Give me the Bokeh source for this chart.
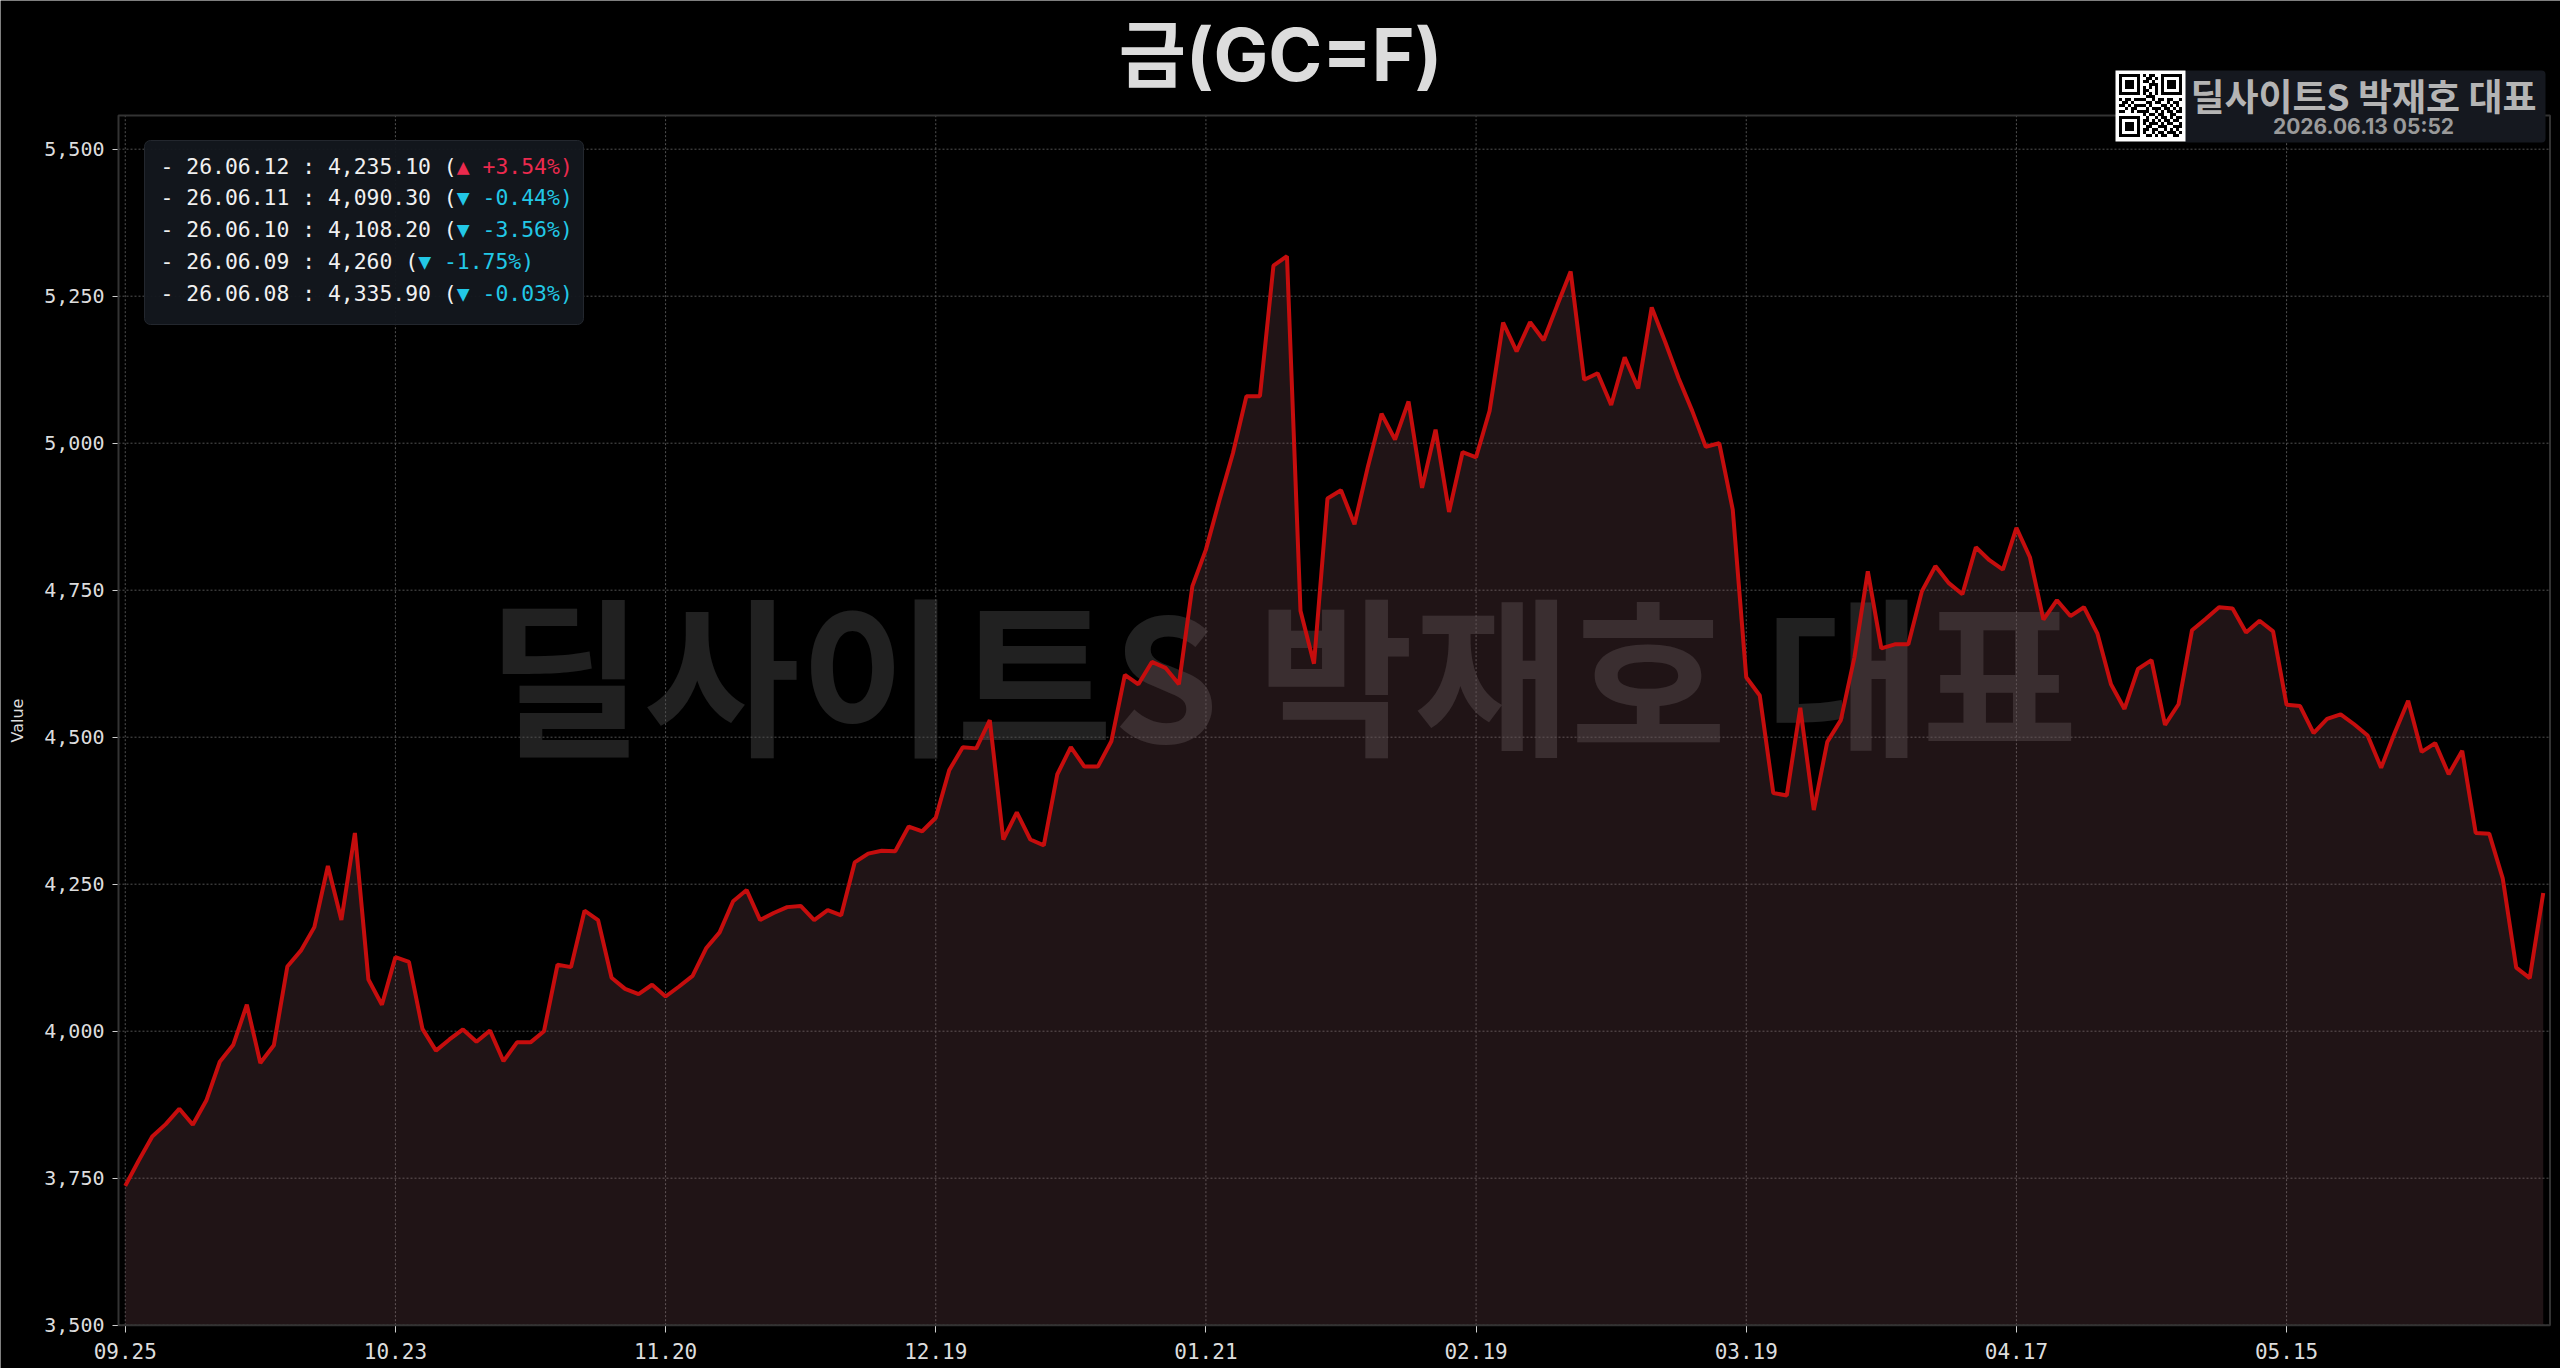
from bokeh.plotting import figure
from bokeh.models import Range1d, FixedTicker, NumeralTickFormatter, Label, BoxAnnotation
from bokeh.embed import file_html
from bokeh.resources import INLINE

# ---------------- data ----------------
title_text = "금(GC=F)"
y_label = "Value"
x_tick_index = [0, 20, 40, 60, 80, 100, 120, 140, 160]
x_tick_labels = ["09.25", "10.23", "11.20", "12.19", "01.21", "02.19", "03.19", "04.17", "05.15"]
y_ticks = [3500, 3750, 4000, 4250, 4500, 4750, 5000, 5250, 5500]

prices = [
    3737, 3780, 3821, 3842, 3868, 3841, 3882, 3948, 3977, 4045,
    3946, 3976, 4110, 4137, 4177, 4281, 4189, 4337, 4088, 4045,
    4126, 4118, 4004, 3967, 3986, 4003, 3982, 4001, 3949, 3981,
    3981, 4000, 4113, 4109, 4205, 4189, 4091, 4072, 4063, 4079,
    4059, 4076, 4094, 4141, 4168, 4221, 4240, 4189, 4201, 4211,
    4213, 4189, 4206, 4197, 4287, 4302, 4307, 4306, 4348, 4340,
    4363, 4444, 4483, 4481, 4529, 4326, 4372, 4326, 4316, 4437,
    4483, 4450, 4450, 4493, 4606, 4590, 4628, 4618, 4590, 4757,
    4819, 4903, 4983, 5080, 5080, 5302, 5318, 4715, 4625, 4906,
    4920, 4862, 4961, 5050, 5006, 5071, 4924, 5023, 4883, 4985,
    4976, 5055, 5205, 5156, 5206, 5175, 5234, 5292, 5108, 5119,
    5065, 5146, 5093, 5231, 5172, 5110, 5055, 4994, 5000, 4887,
    4602, 4571, 4405, 4401, 4550, 4376, 4492, 4529, 4635, 4782,
    4651, 4658, 4658, 4748, 4791, 4762, 4743, 4823, 4801, 4785,
    4856, 4806, 4700, 4733, 4706, 4721, 4676, 4590, 4548, 4616,
    4631, 4521, 4556, 4682, 4701, 4721, 4719, 4678, 4698, 4680,
    4555, 4553, 4507, 4531, 4539, 4522, 4503, 4448, 4507, 4562,
    4475, 4490, 4437, 4477, 4337.2, 4335.9, 4260.0, 4108.2, 4090.3, 4235.1,
]

legend_dates = ["26.06.12", "26.06.11", "26.06.10", "26.06.09", "26.06.08"]
watermark_text = "딜사이트S 박재호 대표"
badge_name = "딜사이트S 박재호 대표"
badge_time = "2026.06.13 05:52"

qr_rows = [
    "111111101011001111111",
    "100000100110101000001",
    "101110101101001011101",
    "101110100011101011101",
    "101110101010101011101",
    "100000101100101000001",
    "111111101010101111111",
    "000000000111000000000",
    "101101111001011011001",
    "011010000110110010110",
    "110101111010001101010",
    "001011000101110110101",
    "110010111100101011011",
    "000000001011011001100",
    "111111100100101101011",
    "100000101101010110110",
    "101110101011101011001",
    "101110100110011100111",
    "101110101101100101010",
    "100000101001011011101",
    "111111100110101100110",
]

# ---------------- geometry ----------------
W, H = 2560, 1368
idx = list(range(len(prices)))
VX0, VX1 = -0.5, len(prices) - 0.5          # visible plot box, x (data)
VY0, VY1 = 3500, 5557.3                      # visible plot box, y (data)
BOX_L, BOX_R, BOX_B = 118, 2549.5, 1324.7    # visible box in page pixels
PX_Y = 0.588                                 # pixels per price unit
px_x = (BOX_R - BOX_L) / (VX1 - VX0)
x_start = VX0 - BOX_L / px_x
x_end = VX1 + (W - BOX_R) / px_x
y_start = VY0 - (H - BOX_B) / PX_Y
y_end = VY0 + BOX_B / PX_Y

MONO = "DejaVu Sans Mono"
KR = "Noto Sans CJK KR"
TITLE_FONT = "Inter, Noto Sans CJK KR"


def sy(page_y):
    """page-pixel y (from top) -> frame screen y (from bottom)"""
    return H - page_y


p = figure(
    width=W, height=H, title=None,
    x_range=Range1d(x_start, x_end), y_range=Range1d(y_start, y_end),
    output_backend="svg", toolbar_location=None,
    background_fill_color="#000000", border_fill_color="#000000",
    min_border=0, min_border_left=0, min_border_right=0, min_border_top=0, min_border_bottom=0,
    outline_line_color=None,
)
p.xgrid.visible = False
p.ygrid.visible = False

# axes placed at the edges of the visible box
p.xaxis.fixed_location = VY0
p.yaxis.fixed_location = VX0
p.xaxis.bounds = (VX0, VX1)
p.yaxis.bounds = (VY0, VY1)
p.xaxis.ticker = FixedTicker(ticks=x_tick_index)
p.xaxis.major_label_overrides = {i: lab for i, lab in zip(x_tick_index, x_tick_labels)}
p.yaxis.ticker = FixedTicker(ticks=y_ticks)
p.yaxis.formatter = NumeralTickFormatter(format="0,0")
p.yaxis.axis_label = y_label

for ax in (p.xaxis, p.yaxis):
    ax.axis_line_color = None
    ax.major_tick_line_color = "#cfcfcf"
    ax.major_tick_line_width = 1
    ax.major_tick_in = 0
    ax.minor_tick_line_color = None
    ax.major_label_text_color = "#dddddd"
    ax.major_label_text_font = MONO

p.xaxis.major_tick_out = 7
p.xaxis.major_label_standoff = 11
p.xaxis.major_label_text_font_size = "21px"
p.yaxis.major_tick_out = 6
p.yaxis.major_label_standoff = 8
p.yaxis.major_label_text_font_size = "20px"
p.yaxis.axis_label_text_font = "DejaVu Sans"
p.yaxis.axis_label_text_font_size = "16px"
p.yaxis.axis_label_text_font_style = "normal"
p.yaxis.axis_label_text_color = "#dddddd"
p.yaxis.axis_label_standoff = 14

# watermark (under the data)
p.add_layout(Label(
    x=1282, y=sy(668.5), x_units="screen", y_units="screen", text=watermark_text,
    text_align="center", text_baseline="middle", text_font=KR, text_font_style="bold",
    text_font_size="170px", text_color="#ffffff", text_alpha=0.13, level="underlay",
))

# dotted grid inside the visible box
p.segment(x0=x_tick_index, y0=[VY0] * len(x_tick_index), x1=x_tick_index, y1=[VY1] * len(x_tick_index),
          line_color="#525252", line_dash="2 2", line_width=1)
p.segment(x0=[VX0] * len(y_ticks), y0=y_ticks, x1=[VX1] * len(y_ticks), y1=y_ticks,
          line_color="#525252", line_dash="2 2", line_width=1)

# area + line
p.varea(x=idx, y1=[VY0] * len(idx), y2=prices, fill_color="#a0646e", fill_alpha=0.2)
p.line(idx, prices, line_color="#c50d0d", line_width=4)

# visible frame
p.add_layout(BoxAnnotation(left=VX0, right=VX1, bottom=VY0, top=VY1,
                           fill_color=None, fill_alpha=0, line_color="#333333", line_width=2,
                           line_alpha=1, level="annotation"))

# ---------------- title ----------------
p.add_layout(Label(
    x=1280, y=sy(54), x_units="screen", y_units="screen", text=title_text,
    text_align="center", text_baseline="middle", text_font=TITLE_FONT, text_font_style="bold",
    text_font_size="73px", text_color="#dcdcdc",
))

# ---------------- legend box (top-left) ----------------
p.add_layout(BoxAnnotation(
    left=144, right=583, bottom=sy(324), top=sy(140),
    left_units="screen", right_units="screen", top_units="screen", bottom_units="screen",
    fill_color="#13171d", fill_alpha=0.95, line_color="#23272e", line_width=1, line_alpha=1,
    border_radius=6,
))


def fmt_val(v):
    return f"{v:,.0f}" if float(v).is_integer() else f"{v:,.2f}"


LEG_FS = 21.4
char_w = 0.6021 * LEG_FS
line_page_ys = [165.7, 197.3, 229.3, 261.3, 293.3]
n = len(prices)
for k, d in enumerate(legend_dates):
    cur = prices[n - 1 - k]
    prev = prices[n - 2 - k]
    pct = (cur / prev - 1) * 100
    up = pct > 0
    prefix = f"- {d} : {fmt_val(cur)} ("
    suffix = f"{'▲' if up else '▼'} {pct:+.2f}%)"
    p.add_layout(Label(
        x=160, y=sy(line_page_ys[k]), x_units="screen", y_units="screen", text=prefix,
        text_align="left", text_baseline="middle", text_font=MONO,
        text_font_size=f"{LEG_FS}px", text_color="#f0f0f0",
    ))
    p.add_layout(Label(
        x=160 + len(prefix) * char_w, y=sy(line_page_ys[k]), x_units="screen", y_units="screen",
        text=suffix, text_align="left", text_baseline="middle", text_font=MONO,
        text_font_size=f"{LEG_FS}px", text_color="#eb2a4e" if up else "#22c8e6",
    ))

# ---------------- badge (top-right) ----------------
def sbox(l, r, top_y, bottom_y, color, **kw):
    return BoxAnnotation(
        left=l, right=r, bottom=sy(bottom_y), top=sy(top_y),
        left_units="screen", right_units="screen", top_units="screen", bottom_units="screen",
        fill_color=color, fill_alpha=1.0, line_color=None, level="overlay", **kw)


p.add_layout(sbox(2183, 2545, 70, 142, "#15181f", border_radius=4))
p.add_layout(sbox(2115, 2185, 70, 141, "#ffffff"))
ox, oy, m = 2115 + 3.5, 70 + 3.5, 3.0
for r, row in enumerate(qr_rows):
    c = 0
    while c < len(row):
        if row[c] == "1":
            c0 = c
            while c < len(row) and row[c] == "1":
                c += 1
            p.add_layout(sbox(ox + c0 * m, ox + c * m, oy + r * m, oy + (r + 1) * m, "#000000"))
        else:
            c += 1

p.add_layout(Label(
    x=2363, y=sy(94), x_units="screen", y_units="screen", text=badge_name,
    text_align="center", text_baseline="middle", text_font=KR, text_font_style="bold",
    text_font_size="37px", text_color="#b4b4b4", level="overlay",
))
p.add_layout(Label(
    x=2363, y=sy(125.5), x_units="screen", y_units="screen", text=badge_time,
    text_align="center", text_baseline="middle", text_font=TITLE_FONT, text_font_style="bold",
    text_font_size="21px", text_color="#9a9a9a", level="overlay",
))

open("out.html", "w").write(file_html(p, INLINE))
